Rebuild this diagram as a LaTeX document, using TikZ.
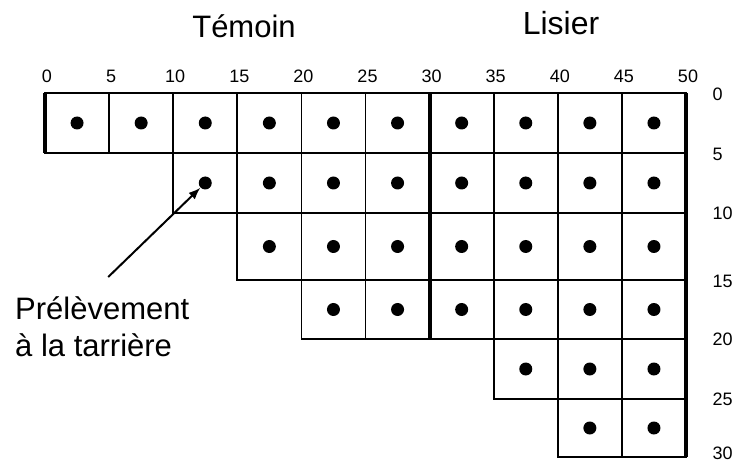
\documentclass[tikz,border=0pt]{standalone}
\usepackage{fontspec}
\setmainfont{Liberation Sans}
\usetikzlibrary{positioning,arrows.meta}

\begin{document}
\begin{tikzpicture}[
    x=1pt, y=-1pt,
    cell/.style={draw, line width=1.8pt},
    sep/.style={line width=4pt},
    dot/.style={circle, fill, inner sep=0pt, minimum size=13pt},
    num/.style={font=\fontsize{18}{21}\selectfont},
    title/.style={font=\fontsize{31}{37}\selectfont},
    arr/.style={-{Latex[length=12pt,width=9pt]}, line width=2pt}
  ]
  \useasboundingbox (0,0) rectangle (734,465);

  % plots: row / top / bottom / first column
  \foreach \r/\top/\bot/\first in {0/93/153/0, 1/153/213/2, 2/213/280/3,
                                   3/280/339/4, 4/339/399/7, 5/399/457/8}{
    \foreach \c in {\first,...,9}{
      \draw[cell] ({45+64.1*\c},\top) rectangle ({45+64.1*(\c+1)},\bot);
      \node[dot] (d-\r-\c) at ({45+64.1*(\c+0.5)},{(\top+\bot)/2}) {};
    }
  }

  % heavier edges
  \draw[sep] (45,93) -- (45,153);
  \draw[sep] (429.6,93) -- (429.6,339);
  \draw[sep] (686,93) -- (686,457);

  % scales
  \foreach \v [count=\i from 0] in {0,5,...,50}
    \node[num] (top-\v) at ({47+64.1*\i},76) {\v};
  \foreach \v/\y in {0/94,5/154,10/213,15/281,20/339,25/399,30/453}
    \node[num, anchor=west, inner ysep=1pt] (side-\v) at (709,\y) {\v};

  % treatments
  \node[title, anchor=base] (temoin) at (244,38) {Témoin};
  \node[title, anchor=base, font=\fontsize{32}{37}\selectfont] (lisier) at (561,35) {Lisier};

  % sampling note
  \node[title, align=left, anchor=north west, inner sep=0pt] (pre) at (15,296)
    {Prélèvement\\à la tarrière};
  \coordinate[above right=19pt and 6pt of pre.north] (tail);
  \draw[arr] (tail) -- (d-1-2);
\end{tikzpicture}
\end{document}
